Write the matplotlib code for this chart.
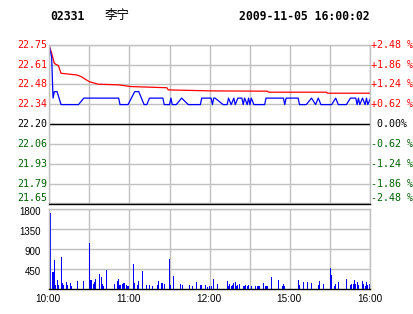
"""Intraday chart for 02331 (Li Ning), 2009-11-05: price / average price plus minute volume."""
import matplotlib

matplotlib.use("Agg")
import matplotlib.pyplot as plt
import matplotlib.transforms as mtransforms

# minutes counted in trading time from 10:00 (12:30-14:30 lunch break removed)
PREV_CLOSE = 22.20

price_min = [0, 2, 3, 4, 6, 9, 22, 26, 52, 53, 59, 64, 67, 71, 73, 75, 85, 86, 90, 91,
             92, 95, 99, 104, 113, 114, 121, 122, 123, 124, 130, 133, 134, 136, 138, 139,
             141, 144, 145, 146, 148, 149, 150, 151, 153, 161, 162, 175, 176, 177, 186,
             187, 192, 196, 199, 201, 203, 211, 214, 216, 222, 225, 229, 230, 231, 232,
             234, 236, 237, 238, 240]
price_val = [22.75, 22.66, 22.38, 22.425, 22.425, 22.335, 22.335, 22.38, 22.38, 22.335,
             22.335, 22.425, 22.425, 22.335, 22.335, 22.38, 22.38, 22.335, 22.335, 22.38,
             22.335, 22.335, 22.38, 22.335, 22.335, 22.38, 22.38, 22.335, 22.38, 22.38,
             22.335, 22.335, 22.38, 22.335, 22.38, 22.335, 22.38, 22.38, 22.335, 22.38,
             22.335, 22.38, 22.335, 22.38, 22.335, 22.335, 22.38, 22.38, 22.335, 22.38,
             22.38, 22.335, 22.335, 22.38, 22.335, 22.38, 22.335, 22.335, 22.38, 22.335,
             22.335, 22.38, 22.38, 22.335, 22.38, 22.335, 22.38, 22.335, 22.38, 22.335,
             22.38]

avg_min = [0, 2, 4, 7, 9, 21, 24, 30, 37, 52, 61, 88, 89, 121, 163, 164, 207, 208, 240]
avg_val = [22.748, 22.69, 22.62, 22.605, 22.552, 22.54, 22.529, 22.494, 22.476, 22.472,
           22.46, 22.452, 22.437, 22.43, 22.428, 22.421, 22.421, 22.414, 22.414]

vol_min = [0, 3, 4, 5, 6, 7, 9, 10, 11, 13, 14, 16, 17, 21, 26, 30, 31, 32, 33, 34, 35,
           38, 39, 40, 41, 43, 49, 51, 52, 53, 55, 56, 58, 59, 63, 64, 66, 67, 70, 73, 75,
           77, 81, 82, 84, 85, 86, 90, 91, 93, 98, 100, 105, 107, 110, 113, 114, 117, 118,
           120, 121, 123, 126, 133, 134, 135, 136, 137, 138, 139, 140, 141, 142, 145, 146,
           147, 148, 149, 151, 154, 156, 157, 160, 162, 163, 166, 171, 174, 175, 176, 186,
           187, 190, 193, 196, 201, 202, 205, 210, 211, 213, 214, 216, 222, 225, 226, 227,
           228, 229, 230, 231, 234, 235, 236, 237, 238, 239, 240]
vol_val = [1720, 380, 645, 75, 190, 80, 720, 120, 85, 150, 80, 120, 60, 170, 170, 1040, 190,
           190, 100, 150, 220, 330, 270, 110, 50, 420, 100, 170, 220, 70, 110, 130, 80, 60,
           550, 130, 75, 175, 400, 80, 80, 50, 80, 175, 120, 120, 95, 670, 80, 280, 100, 80,
           80, 50, 150, 80, 80, 80, 45, 50, 50, 210, 100, 175, 50, 100, 50, 80, 120, 150, 50,
           80, 100, 50, 50, 80, 50, 80, 50, 50, 50, 50, 130, 50, 50, 260, 190, 50, 100, 50,
           190, 80, 140, 150, 130, 80, 175, 100, 460, 300, 50, 100, 150, 210, 80, 100, 100,
           190, 100, 150, 80, 175, 100, 50, 150, 80, 100, 130]

price_labels = ["22.75", "22.61", "22.48", "22.34", "22.20", "22.06", "21.93", "21.79", "21.65"]
pct_labels = ["+2.48 %", "+1.86 %", "+1.24 %", "+0.62 %", " 0.00%",
              "-0.62 %", "-1.24 %", "-1.86 %", "-2.48 %"]
vol_ticks = [1800, 1350, 900, 450]
vol_labels = ["1800", "1350", "900", "450"]
time_ticks = [0, 60, 120, 180, 240]
time_labels = ["10:00", "11:00", "12:00", "15:00", "16:00"]

W, H = 414, 314
GRID = "#c0c0c0"
UP = "#ff0000"
DOWN = "#006000"
MONO = "DejaVu Sans Mono"
SANS = "Liberation Sans"


def main() -> None:
    fig = plt.figure(figsize=(W / 100, H / 100), dpi=100)
    ax = fig.add_axes([49 / W, 1 - 203.5 / H, 321.5 / W, 158.8 / H])
    axv = fig.add_axes([49 / W, 1 - 288.5 / H, 321.5 / W, 79.2 / H])

    for a in (ax, axv):
        a.set_xlim(0, 240)
        a.set_xticks(range(0, 241, 30))
        a.tick_params(length=0, labelleft=False, labelbottom=False)
        a.set_axisbelow(True)
        a.grid(True, color=GRID, lw=1)
        for s in a.spines.values():
            s.set_color(GRID)
            s.set_linewidth(1)
        a.spines["bottom"].set_color("black")

    # price panel
    top = PREV_CLOSE + 0.55
    step = 0.55 / 4
    levels = [top - i * step for i in range(9)]
    ax.set_ylim(levels[-1], levels[0])
    ax.set_yticks(levels)
    ax.axhline(PREV_CLOSE, color="black", lw=1)
    ax.plot(avg_min, avg_val, color="red", lw=0.9)
    ax.plot(price_min, price_val, color="blue", lw=0.9)

    tl = mtransforms.offset_copy(ax.get_yaxis_transform(), fig=fig, x=-2, y=0, units="dots")
    tr = mtransforms.offset_copy(ax.get_yaxis_transform(), fig=fig, x=1, y=0, units="dots")
    for i, (y, lp, rp) in enumerate(zip(levels, price_labels, pct_labels)):
        if i < 4:
            c = UP
        elif i == 4:
            c = "black"
        else:
            c = DOWN
        va = "bottom" if i == 8 else "center"
        ax.text(0, y, lp, transform=tl, ha="right", va=va, color=c, family=MONO, size=7.2)
        ax.text(1, y, rp, transform=tr, ha="left", va=va, color=c, family=MONO, size=7.2)

    # volume panel
    axv.set_ylim(0, 1800)
    axv.set_yticks(vol_ticks)
    widths = [2.4] + [0.8] * (len(vol_min) - 1)
    axv.bar(vol_min, vol_val, width=widths, color="blue", linewidth=0)

    tv = mtransforms.offset_copy(axv.get_yaxis_transform(), fig=fig, x=-8, y=-3, units="dots")
    for y, lbl in zip(vol_ticks, vol_labels):
        axv.text(0, y, lbl, transform=tv, ha="right", va="center", color="black",
                 family=SANS, size=7)
    tt = mtransforms.offset_copy(axv.get_xaxis_transform(), fig=fig, x=-1, y=-10, units="dots")
    for x, lbl in zip(time_ticks, time_labels):
        axv.text(x, 0, lbl, transform=tt, ha="center", va="center", color="black",
                 family=SANS, size=7.2)

    # header
    hy = 1 - 16 / H
    fig.text(50 / W, hy, "02331", family=MONO, weight="bold", size=8.3, va="center")
    fig.text(105 / W, hy, "李宁", family=["Noto Sans CJK SC", "DejaVu Sans"], size=9, va="center")
    fig.text(370 / W, hy, "2009-11-05 16:00:02", family=MONO, weight="bold", size=8.3,
             va="center", ha="right")

    fig.savefig("out.png", dpi=100)
    plt.close(fig)


if __name__ == "__main__":
    main()
